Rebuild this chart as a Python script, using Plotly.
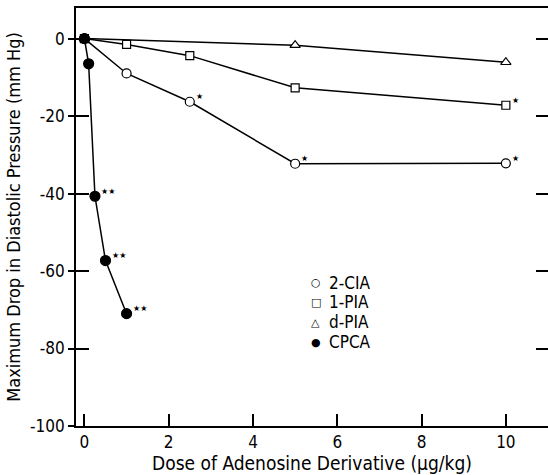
import plotly.graph_objects as go

# ---- data ----
cia_dose = [0, 1, 2.5, 5, 10]
cia_drop = [0, -9.0, -16.3, -32.3, -32.2]
cia_sig = ["", "", "★", "★", "★"]

pia_dose = [0, 1, 2.5, 5, 10]
pia_drop = [0, -1.5, -4.4, -12.7, -17.2]
pia_sig = ["", "", "", "", "★"]

dpia_dose = [0, 5, 10]
dpia_drop = [0, -1.7, -6.1]
dpia_sig = ["", "", ""]

cpca_dose = [0, 0.1, 0.25, 0.5, 1]
cpca_drop = [0, -6.5, -40.7, -57.3, -71.0]
cpca_sig = ["", "", "★★", "★★", "★★"]

x_ticks = [0, 2, 4, 6, 8, 10]
y_ticks = [0, -20, -40, -60, -80, -100]
y_mirror_ticks = [0, -20, -40, -60, -80]

legend_symbols = ["○", "□", "△", "●"]
legend_labels = ["2-CIA", "1-PIA", "d-PIA", "CPCA"]

FONT = "DejaVu Sans Condensed, Roboto, sans-serif"

fig = go.Figure()

def add_series(x, y, sig, symbol, fill, size):
    fig.add_trace(go.Scatter(
        x=x, y=y, mode="lines+markers",
        line=dict(color="black", width=1.5),
        marker=dict(symbol=symbol, size=size, color=fill,
                    line=dict(color="black", width=1.2)),
        showlegend=False, cliponaxis=False,
    ))
    for xi, yi, s in zip(x, y, sig):
        if s:
            fig.add_annotation(x=xi, y=yi, text=s, showarrow=False,
                               xanchor="left", yanchor="middle",
                               xshift=4, yshift=5,
                               font=dict(family="DejaVu Sans", size=8, color="black"))

add_series(dpia_dose, dpia_drop, dpia_sig, "triangle-up", "white", 9)
add_series(pia_dose, pia_drop, pia_sig, "square", "white", 8)
add_series(cia_dose, cia_drop, cia_sig, "circle", "white", 9)
add_series(cpca_dose, cpca_drop, cpca_sig, "circle", "black", 10)

# helper traces for extra axes (tick marks only)
fig.add_trace(go.Scatter(x=[None], y=[None], yaxis="y2", showlegend=False, hoverinfo="skip"))
fig.add_trace(go.Scatter(x=[None], y=[None], yaxis="y3", showlegend=False, hoverinfo="skip"))

yr = [-100, 7.9]

fig.update_layout(
    width=548, height=475,
    margin=dict(l=76, r=0, t=8, b=49),
    paper_bgcolor="white", plot_bgcolor="white",
    font=dict(family=FONT, size=17, color="black"),
    xaxis=dict(
        range=[-0.2, 11.0], tickvals=x_ticks, ticktext=[str(v) for v in x_ticks],
        showline=True, linecolor="black", linewidth=1.6, mirror=True,
        ticks="inside", ticklen=12, tickwidth=1.6, tickcolor="black",
        showgrid=False, zeroline=False,
        tickfont=dict(size=17),
        title=dict(text="Dose of Adenosine Derivative (\u03bcg/kg)", font=dict(size=19), standoff=4),
    ),
    yaxis=dict(
        range=yr, tickvals=y_ticks, ticktext=[str(v) for v in y_ticks],
        showline=True, linecolor="black", linewidth=1.6,
        ticks="outside", ticklen=6, tickwidth=1.6, tickcolor="black",
        showgrid=False, zeroline=False,
        tickfont=dict(size=17),
        title=dict(text="Maximum Drop in Diastolic Pressure (mm Hg)", font=dict(size=18), standoff=5),
    ),
    yaxis2=dict(
        range=yr, overlaying="y", side="left", tickvals=y_ticks, showticklabels=False,
        ticks="inside", ticklen=13, tickwidth=1.6, tickcolor="black",
        showline=False, showgrid=False, zeroline=False,
    ),
    yaxis3=dict(
        range=yr, overlaying="y", side="right", tickvals=y_mirror_ticks, showticklabels=False,
        ticks="inside", ticklen=12, tickwidth=1.6, tickcolor="black",
        showline=False, showgrid=False, zeroline=False,
    ),
)

for i, (sym, lab) in enumerate(zip(legend_symbols, legend_labels)):
    ypos = 0.343 - i * 0.0475
    fig.add_annotation(xref="paper", yref="paper", x=0.508, y=ypos, text=sym,
                       showarrow=False, xanchor="center", yanchor="middle",
                       font=dict(family="DejaVu Sans", size=11, color="black"))
    fig.add_annotation(xref="paper", yref="paper", x=0.532, y=ypos, text=lab,
                       showarrow=False, xanchor="left", yanchor="middle",
                       font=dict(size=17, color="black"))

fig.write_html("out.html")
